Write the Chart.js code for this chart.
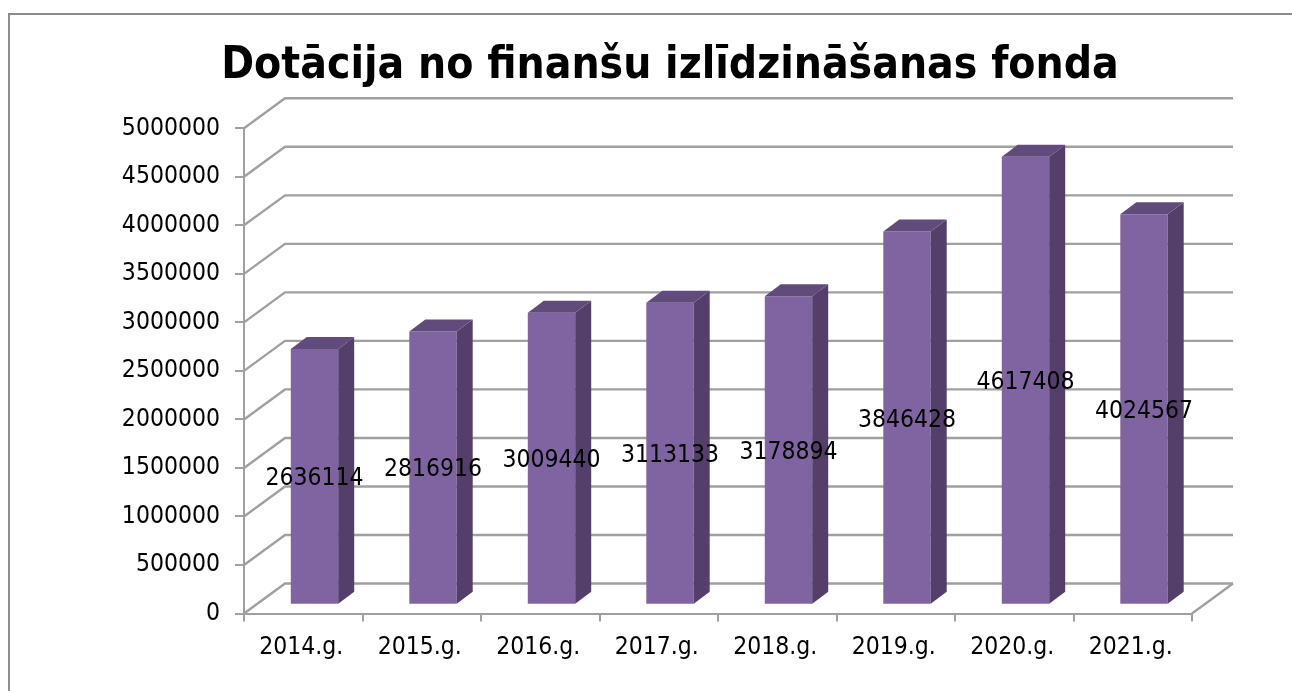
<!DOCTYPE html>
<html lang="lv">
<head>
<meta charset="utf-8">
<title>Dotācija no finanšu izlīdzināšanas fonda</title>
<script src="https://cdn.jsdelivr.net/npm/chart.js@4/dist/chart.umd.min.js"></script>
<style>
  html, body { margin: 0; padding: 0; background: #fff; overflow: hidden; }
  #wrap { position: relative; width: 1292px; height: 691px; overflow: hidden; }
  #frame { position: absolute; left: 8px; top: 13px; width: 1290px; height: 700px; border: 2px solid #8c8c8c; }
  canvas { position: absolute; left: 0; top: 0; }
</style>
</head>
<body>
<div id="wrap">
  <div id="frame"></div>
  <canvas id="chart" width="1292" height="691"></canvas>
</div>
<script>
const TITLE = 'Dotācija no finanšu izlīdzināšanas fonda';
const GADI = ['2014.g.', '2015.g.', '2016.g.', '2017.g.', '2018.g.', '2019.g.', '2020.g.', '2021.g.'];
const DOTACIJA = [2636114, 2816916, 3009440, 3113133, 3178894, 3846428, 4617408, 4024567];
const Y_MAX = 5000000;
const Y_STEP = 500000;

const FONT = '"DejaVu Sans Condensed", "DejaVu Sans", sans-serif';
const GRID = '#a0a0a0';
const FRONT = '#8064A2';
const SIDE = '#533F69';
const TOP = '#614B7C';

// 3D look: the wall sits behind the axes, the bars stand part way into the floor
const WALL_DX = 41, WALL_DY = -30;
const BAR_DX = 11.25, BAR_DY = -8.7;
const DEPTH_DX = 16, DEPTH_DY = -12;

const plot3d = {
  id: 'plot3d',
  afterLayout(chart) {
    // title is centred on the whole picture box, not on the plot
    chart.titleBlock.left += 100;
  },
  beforeDatasetsDraw(chart) {
    const { ctx, chartArea, scales: { y } } = chart;
    const { left, right } = chartArea;
    ctx.save();
    ctx.strokeStyle = GRID;
    ctx.lineWidth = 2.4;
    y.ticks.forEach(t => {
      const py = y.getPixelForValue(t.value);
      ctx.beginPath();
      ctx.moveTo(left, py);
      ctx.lineTo(left + WALL_DX, py + WALL_DY);
      ctx.lineTo(right + WALL_DX, py + WALL_DY);
      ctx.stroke();
    });
    // floor edge on the right
    const y0 = y.getPixelForValue(0);
    ctx.beginPath();
    ctx.moveTo(right, y0);
    ctx.lineTo(right + WALL_DX, y0 + WALL_DY);
    ctx.stroke();
    ctx.restore();

    ctx.save();
    ctx.translate(BAR_DX, BAR_DY);
  },
  afterDatasetsDraw(chart) {
    const { ctx } = chart;
    const bars = chart.getDatasetMeta(0).data;
    bars.forEach(b => {
      const x2 = b.x + b.width / 2, x1 = b.x - b.width / 2;
      ctx.fillStyle = SIDE;
      ctx.beginPath();
      ctx.moveTo(x2, b.y);
      ctx.lineTo(x2 + DEPTH_DX, b.y + DEPTH_DY);
      ctx.lineTo(x2 + DEPTH_DX, b.base + DEPTH_DY);
      ctx.lineTo(x2, b.base);
      ctx.closePath();
      ctx.fill();
      ctx.fillStyle = TOP;
      ctx.beginPath();
      ctx.moveTo(x1, b.y);
      ctx.lineTo(x1 + DEPTH_DX, b.y + DEPTH_DY);
      ctx.lineTo(x2 + DEPTH_DX, b.y + DEPTH_DY);
      ctx.lineTo(x2, b.y);
      ctx.closePath();
      ctx.fill();
    });
    ctx.fillStyle = '#000';
    ctx.font = '24.5px ' + FONT;
    ctx.textAlign = 'center';
    ctx.textBaseline = 'middle';
    bars.forEach((b, i) => ctx.fillText(String(DOTACIJA[i]), b.x, (b.y + b.base) / 2 + 2.5));
    ctx.restore();
  },
};

new Chart(document.getElementById('chart'), {
  type: 'bar',
  data: {
    labels: GADI,
    datasets: [{
      data: DOTACIJA,
      backgroundColor: FRONT,
      borderWidth: 0,
      barPercentage: 0.4,
      categoryPercentage: 1,
      clip: false,
    }],
  },
  options: {
    responsive: false,
    animation: false,
    layout: { padding: { left: 48, right: 100, top: 0, bottom: 0 } },
    plugins: {
      legend: { display: false },
      tooltip: { enabled: false },
      title: {
        display: true,
        text: TITLE,
        color: '#000',
        font: { family: FONT, size: 44, weight: 'bold', lineHeight: 1.2 },
        padding: { top: 40, bottom: 35.5 },
      },
    },
    scales: {
      x: {
        afterFit: s => { s.height = 77.5; },
        border: { color: GRID, width: 2 },
        grid: { drawOnChartArea: false, drawTicks: true, tickLength: 8, color: GRID, lineWidth: 2 },
        ticks: { color: '#000', font: { family: FONT, size: 24.5 }, padding: 11, labelOffset: -2, maxRotation: 0, autoSkip: false },
      },
      y: {
        min: 0,
        max: Y_MAX,
        afterFit: s => { s.width = 196; },
        border: { color: GRID, width: 2 },
        grid: { drawOnChartArea: false, drawTicks: true, tickLength: 9, color: GRID, lineWidth: 2 },
        ticks: { stepSize: Y_STEP, color: '#000', font: { family: FONT, size: 24.5 }, padding: 15, callback: v => String(v) },
      },
    },
  },
  plugins: [plot3d],
});
</script>
</body>
</html>
